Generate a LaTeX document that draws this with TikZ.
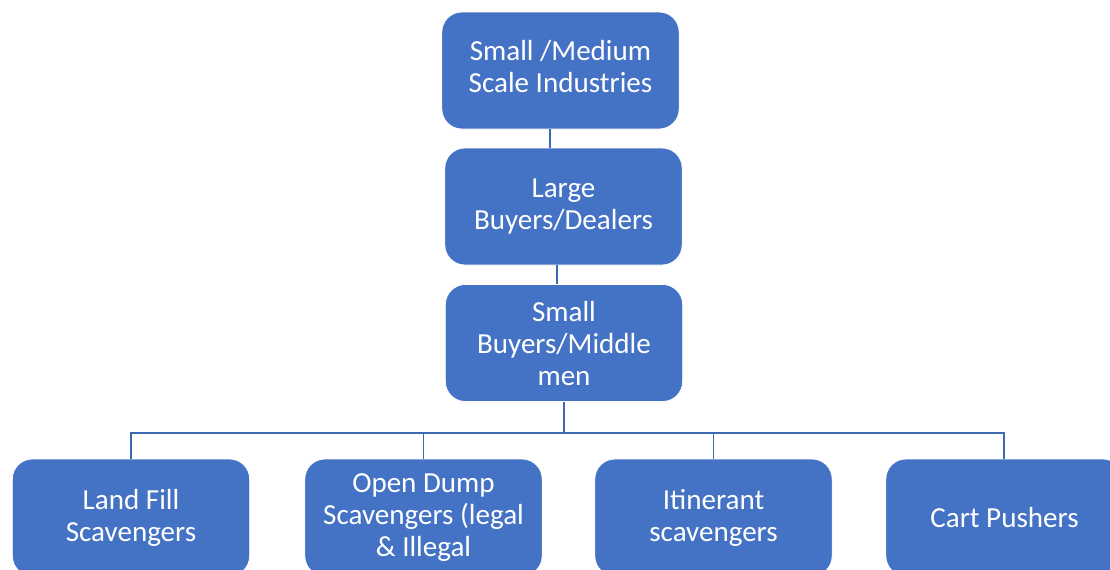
\documentclass[tikz,border=0pt]{standalone}
\usepackage{fontspec}
\setmainfont{Carlito}
\definecolor{boxblue}{HTML}{4472C4}
\definecolor{linkblue}{HTML}{3F68B2}
\begin{document}
\begin{tikzpicture}[x=0.75pt,y=-0.75pt,
  boxtext/.style={text=white, inner sep=0pt, align=center,
    font=\fontsize{21.8}{24}\selectfont},
  box/.style={boxtext, rectangle, rounded corners=15pt, fill=boxblue, draw=white,
    line width=0.6pt, minimum width=178pt, minimum height=87.75pt},
  link/.style={draw=linkblue, line width=1.2pt},
  trunk/.style={draw=linkblue, line width=1.8pt}]
  \useasboundingbox (0,0) rectangle (1110,569);
  \fill[white] (0,0) rectangle (1110,569);
  \clip (0,0) rectangle (1110,569);

  % chain of buyers
  \node[box, label={[boxtext, yshift=3pt]center:Small /Medium\\Scale Industries}]
    (top) at (560.5,70.5) {};
  \node[box] (large) at (563.5,206.5) {Large\\Buyers/Dealers};
  \node[box] (small) at (564,343) {Small\\Buyers/Middle\\men};

  % collectors
  \node[box] (land) at (131,517.5) {Land Fill\\Scavengers};
  \node[box] (dump) at (423.5,517.5) {Open Dump\\Scavengers (legal\\\& Illegal};
  \node[box] (itin) at (713.5,517.5) {Itinerant\\scavengers};
  \node[box] (cart) at (1004.5,517.5) {Cart Pushers};

  % connector positions
  \coordinate (c1) at (550,0);
  \coordinate (c2) at (557,0);
  \coordinate (bus) at (0,433);
  \coordinate (busl) at (131,433);
  \coordinate (busr) at (1004,433);

  \draw[link] (top.south -| c1) -- (large.north -| c1);
  \draw[link] (large.south -| c2) -- (small.north -| c2);
  \draw[trunk] (small.south) -- (small.south |- bus);
  \draw[link] (land.north -| busl) -- (busl) -- (busr) -- (cart.north -| busr);
  \draw[link] (dump.north) -- (dump.north |- bus);
  \draw[link] (itin.north) -- (itin.north |- bus);
\end{tikzpicture}
\end{document}
